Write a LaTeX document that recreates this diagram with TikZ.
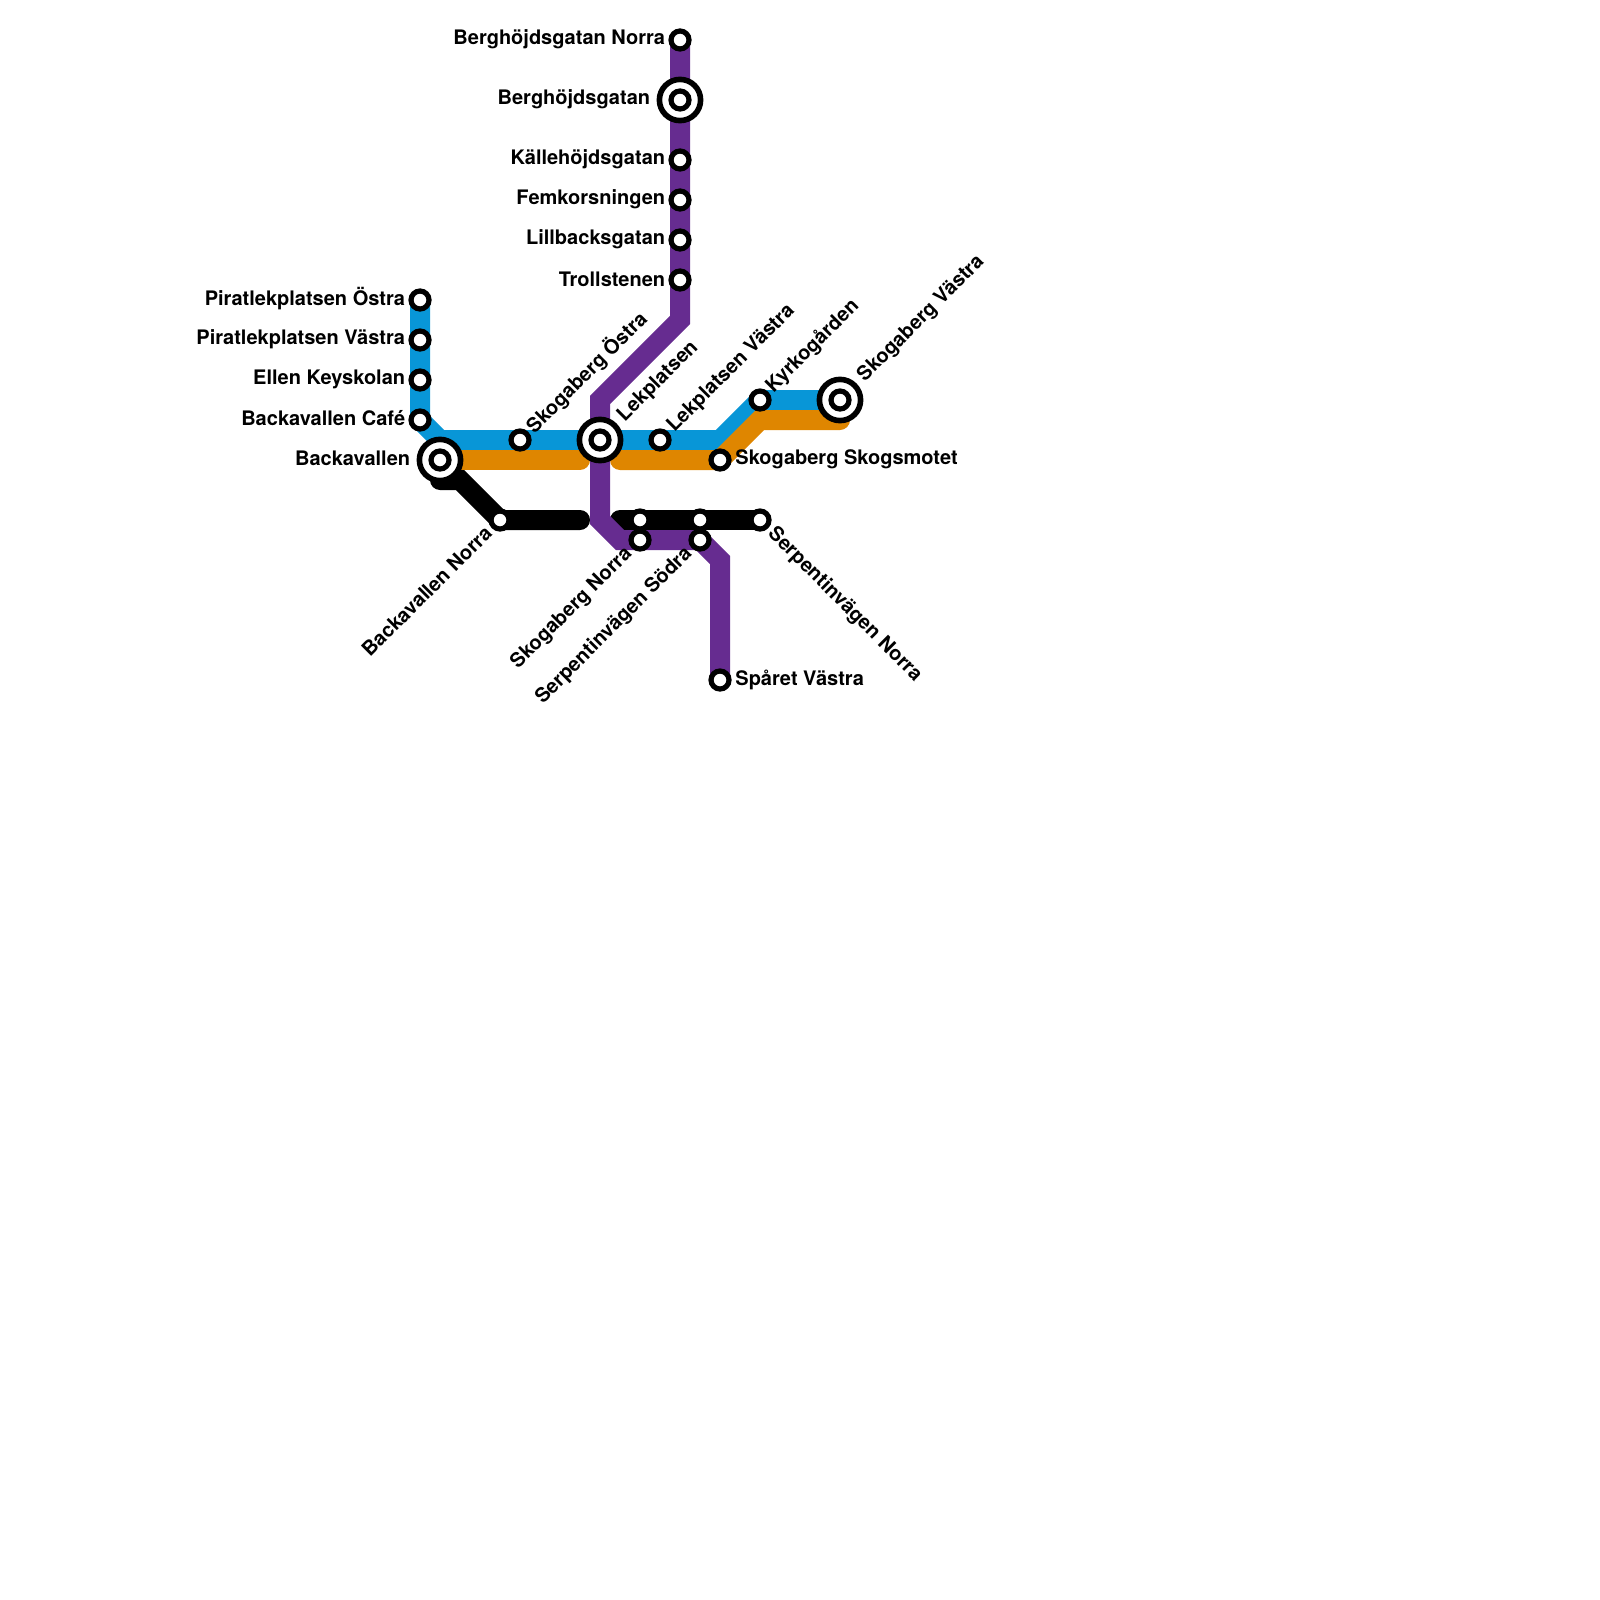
\documentclass[tikz,border=0pt]{standalone}
\usepackage{fontspec}
\setmainfont{TeX Gyre Heros}
\usetikzlibrary{backgrounds}
\definecolor{lblue}{HTML}{0896D7}
\definecolor{lorange}{HTML}{DF8600}
\definecolor{lpurple}{HTML}{662C90}
\tikzset{
  stn/.style={circle,draw=black,fill=white,line width=2.6pt,minimum size=9pt,inner sep=0pt},
  hub/.style={circle,draw=black,fill=white,line width=2.8pt,minimum size=20.6pt,inner sep=0pt},
  lbl/.style={font=\bfseries\fontsize{10}{12}\selectfont,text=black,inner sep=0pt},
  lineb/.style={line width=10pt,miter limit=10,line join=miter}
}
\begin{document}
\begin{tikzpicture}[x=0.5pt,y=-0.5pt]
\useasboundingbox (0,0) rectangle (1600,1600);
% stations
\node[stn] (bn) at (680,40) {};
\node[hub] (bg) at (680,100) {};
\node[stn] (bgi) at (680,100) {};
\node[stn] (ka) at (680,160) {};
\node[stn] (fe) at (680,200) {};
\node[stn] (li) at (680,240) {};
\node[stn] (tr) at (680,280) {};
\node[stn] (po) at (420,300) {};
\node[stn] (pv) at (420,340) {};
\node[stn] (ek) at (420,380) {};
\node[stn] (bc) at (420,420) {};
\node[hub] (ba) at (440,460) {};
\node[stn] (bai) at (440,460) {};
\node[stn] (so) at (520,440) {};
\node[hub] (le) at (600,440) {};
\node[stn] (lei) at (600,440) {};
\node[stn] (lv) at (660,440) {};
\node[stn] (ky) at (760,400) {};
\node[hub] (sv) at (840,400) {};
\node[stn] (svi) at (840,400) {};
\node[stn] (ss) at (720,460) {};
\node[stn] (bo) at (500,520) {};
\node[stn] (sn) at (640,520) {};
\node[stn] (sns) at (640,540) {};
\node[stn] (sp) at (700,520) {};
\node[stn] (sps) at (700,540) {};
\node[stn] (se) at (760,520) {};
\node[stn] (sa) at (720,680) {};
% bends and free ends
\coordinate (p1) at (680,320);
\coordinate (p2) at (600,400);
\coordinate (p3) at (600,520);
\coordinate (p4) at (620,540);
\coordinate (p5) at (700,540);
\coordinate (p6) at (720,560);
\coordinate (b1) at (440,440);
\coordinate (b2) at (720,440);
\coordinate (o1) at (580,460);
\coordinate (o2) at (620,460);
\coordinate (o3) at (760,420);
\coordinate (o4) at (840,420);
\coordinate (k1) at (440,480);
\coordinate (k2) at (460,480);
\coordinate (k3) at (580,520);
\coordinate (k4) at (620,520);
% lines
\begin{pgfonlayer}{background}
\draw[lineb,lblue] (po.center) -- (bc.center) -- (b1) -- (b2) -- (ky.center) -- (sv.center);
\draw[lineb,lorange,line cap=round] (ba.center) -- (o1);
\draw[lineb,lorange,line cap=round] (o2) -- (ss.center) -- (o3) -- (o4);
\draw[lineb,black,line cap=round] (k1) -- (k2) -- (bo.center) -- (k3);
\draw[lineb,black,line cap=round] (k4) -- (se.center);
\draw[lineb,lpurple] (bn.center) -- (p1) -- (p2) -- (p3) -- (p4) -- (p5) -- (p6) -- (sa.center);
\end{pgfonlayer}
% labels
\node[lbl,anchor=east] (tbn) at (665.5,39.5) {Berghöjdsgatan Norra};
\node[lbl,anchor=east] (tbg) at (650.5,99.5) {Berghöjdsgatan};
\node[lbl,anchor=east] (tka) at (665.5,159.5) {Källehöjdsgatan};
\node[lbl,anchor=east] (tfe) at (665.5,199.5) {Femkorsningen};
\node[lbl,anchor=east] (tli) at (665.5,239.5) {Lillbacksgatan};
\node[lbl,anchor=east] (ttr) at (665.5,279) {Trollstenen};
\node[lbl,anchor=east] (tpo) at (405.5,299) {Piratlekplatsen Östra};
\node[lbl,anchor=east] (tpv) at (405.5,339) {Piratlekplatsen Västra};
\node[lbl,anchor=east] (tek) at (405.5,379) {Ellen Keyskolan};
\node[lbl,anchor=east] (tbc) at (405.5,418.5) {Backavallen Café};
\node[lbl,anchor=east] (tba) at (410.5,458.5) {Backavallen};
\node[lbl,anchor=west] (tss) at (735,459) {Skogaberg Skogsmotet};
\node[lbl,anchor=west] (tsa) at (735,679.5) {Spåret Västra};
\node[lbl,anchor=west,rotate=45] (tso) at (529.4,429.4) {Skogaberg Östra};
\node[lbl,anchor=west,rotate=45] (tle) at (621,419) {Lekplatsen};
\node[lbl,anchor=west,rotate=45] (tlv) at (670.6,429.4) {Lekplatsen Västra};
\node[lbl,anchor=west,rotate=45] (tky) at (769.4,389.4) {Kyrkogården};
\node[lbl,anchor=west,rotate=45] (tsv) at (861,379) {Skogaberg Västra};
\node[lbl,anchor=east,rotate=45] (tbo) at (488.4,529.4) {Backavallen Norra};
\node[lbl,anchor=east,rotate=45] (tsn) at (629.4,550.6) {Skogaberg Norra};
\node[lbl,anchor=east,rotate=45] (tsp) at (689.4,550.6) {Serpentinvägen Södra};
\node[lbl,anchor=west,rotate=-45] (tse) at (770.6,530.6) {Serpentinvägen Norra};
\end{tikzpicture}
\end{document}
